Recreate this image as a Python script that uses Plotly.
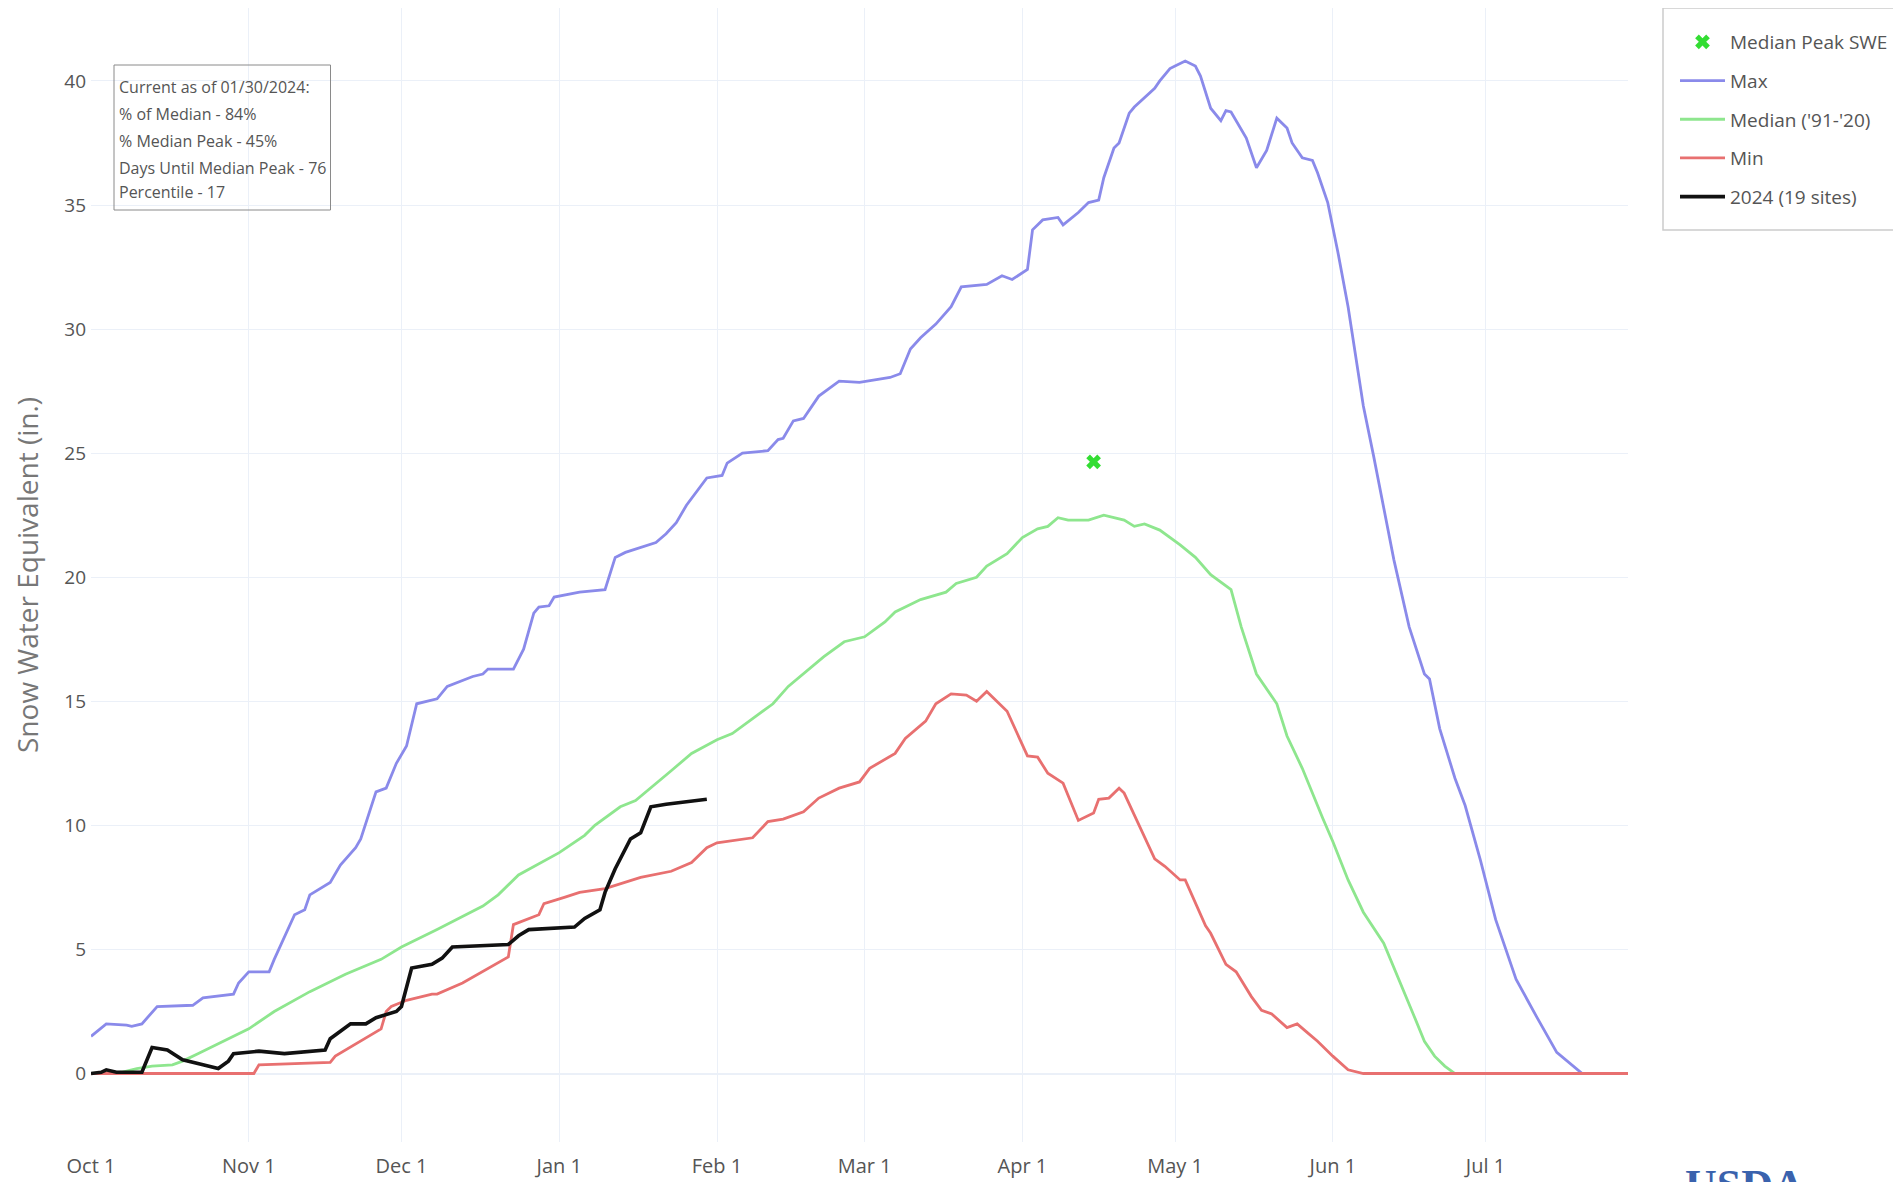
import pandas as pd
import plotly.graph_objects as go

# ---------------- data (day offsets from 2023-10-01, SWE inches) ----------------
START = "2023-10-01"

max_days = [0, 3, 7, 8, 10, 13, 20, 22, 28, 29, 31, 35, 36, 39, 40, 42, 43, 47, 49, 52, 53, 56, 58, 60, 62, 64,
            68, 70, 75, 77, 78, 83, 85, 87, 88, 90, 91, 96, 101, 103, 105, 111, 113, 115, 117, 121, 124, 125, 128,
            133, 135, 136, 138, 140, 143, 147, 151, 157, 159, 161, 163, 166, 169, 171, 176, 179, 181, 184, 185,
            187, 190, 191, 194, 196, 198, 199, 201, 202, 204, 205, 209, 210, 212, 213, 215, 217, 218, 220, 222,
            223, 224, 227, 229, 231, 233, 235, 236, 238, 240, 241, 243, 245, 247, 250, 252, 256, 259, 262, 263,
            265, 268, 270, 273, 276, 280, 284, 288, 293, 302]
max_vals = [1.5, 2.0, 1.95, 1.9, 2.0, 2.7, 2.75, 3.05, 3.2, 3.65, 4.1, 4.1, 4.6, 5.9, 6.4, 6.6, 7.2, 7.7, 8.4, 9.1,
            9.45, 11.35, 11.5, 12.5, 13.2, 14.9, 15.1, 15.6, 16.0, 16.1, 16.3, 16.3, 17.1, 18.55, 18.8, 18.85, 19.2,
            19.4, 19.5, 20.8, 21.0, 21.4, 21.75, 22.2, 22.9, 24.0, 24.1, 24.6, 25.0, 25.1, 25.55, 25.6, 26.3, 26.4,
            27.3, 27.9, 27.85, 28.05, 28.2, 29.2, 29.65, 30.2, 30.9, 31.7, 31.8, 32.15, 32.0, 32.4, 34.0, 34.4,
            34.5, 34.2, 34.7, 35.1, 35.2, 36.1, 37.3, 37.5, 38.7, 38.95, 39.7, 40.0, 40.5, 40.6, 40.8, 40.6, 40.2,
            38.9, 38.4, 38.8, 38.75, 37.7, 36.5, 37.2, 38.5, 38.1, 37.5, 36.9, 36.8, 36.3, 35.1, 33.1, 30.9, 26.9,
            24.9, 20.7, 18.0, 16.1, 15.9, 13.9, 11.9, 10.8, 8.6, 6.2, 3.8, 2.3, 0.85, 0.0, 0.0]

med_days = [0, 6, 9, 12, 16, 18, 21, 26, 31, 36, 43, 50, 57, 61, 68, 77, 80, 84, 92, 97, 99, 104, 107, 114, 118,
            123, 126, 130, 134, 137, 141, 144, 148, 152, 156, 158, 163, 168, 170, 174, 176, 180, 183, 186, 188,
            190, 192, 196, 199, 203, 205, 207, 210, 214, 217, 220, 224, 226, 229, 233, 235, 238, 242, 244, 247,
            250, 254, 257, 260, 262, 264, 266, 268, 302]
med_vals = [0.0, 0.05, 0.2, 0.3, 0.35, 0.5, 0.8, 1.3, 1.8, 2.5, 3.3, 4.0, 4.6, 5.1, 5.8, 6.75, 7.2, 8.0, 8.9, 9.6,
            10.0, 10.75, 11.0, 12.2, 12.9, 13.45, 13.7, 14.3, 14.9, 15.6, 16.3, 16.8, 17.4, 17.6, 18.2, 18.6, 19.1,
            19.4, 19.75, 20.0, 20.45, 20.95, 21.6, 21.95, 22.05, 22.4, 22.3, 22.3, 22.5, 22.3, 22.05, 22.15, 21.9,
            21.3, 20.8, 20.1, 19.5, 18.0, 16.1, 14.9, 13.6, 12.3, 10.3, 9.35, 7.8, 6.5, 5.25, 3.8, 2.3, 1.3, 0.7,
            0.3, 0.0, 0.0]

min_days = [0, 32, 33, 47, 48, 52, 57, 58, 59, 62, 67, 68, 73, 82, 83, 88, 89, 93, 96, 101, 108, 114, 118, 121,
            123, 130, 133, 136, 140, 143, 147, 151, 153, 158, 160, 164, 166, 169, 172, 174, 176, 180, 182, 184,
            186, 188, 191, 194, 197, 198, 200, 202, 203, 209, 211, 214, 215, 219, 220, 223, 225, 228, 230, 232,
            235, 237, 239, 241, 244, 247, 250, 302]
min_vals = [0.0, 0.0, 0.35, 0.45, 0.7, 1.2, 1.8, 2.5, 2.7, 2.95, 3.2, 3.2, 3.65, 4.7, 6.0, 6.4, 6.85, 7.1, 7.3,
            7.45, 7.9, 8.15, 8.5, 9.1, 9.3, 9.5, 10.15, 10.25, 10.55, 11.1, 11.5, 11.75, 12.3, 12.9, 13.5, 14.2,
            14.9, 15.3, 15.25, 15.0, 15.4, 14.6, 13.7, 12.8, 12.75, 12.1, 11.7, 10.2, 10.5, 11.05, 11.1, 11.5, 11.3,
            8.65, 8.35, 7.8, 7.8, 5.95, 5.65, 4.4, 4.1, 3.1, 2.55, 2.4, 1.85, 2.0, 1.65, 1.3, 0.7, 0.15, 0.0, 0.0]

cur_days = [0, 2, 3, 4, 5, 10, 11, 12, 15, 18, 22, 25, 27, 28, 33, 38, 46, 47, 51, 54, 56, 60, 61, 63, 67, 69, 71,
            82, 84, 86, 95, 97, 100, 101, 103, 106, 108, 110, 113, 121]
cur_vals = [0.0, 0.05, 0.15, 0.1, 0.05, 0.05, 0.6, 1.05, 0.95, 0.55, 0.35, 0.2, 0.5, 0.8, 0.9, 0.8, 0.95, 1.4, 2.0,
            2.0, 2.25, 2.5, 2.7, 4.25, 4.4, 4.65, 5.1, 5.2, 5.55, 5.8, 5.9, 6.25, 6.6, 7.3, 8.25, 9.45, 9.7, 10.75,
            10.85, 11.05]

peak_day = [197]
peak_val = [24.65]

info_lines = ["Current as of 01/30/2024:", "% of Median - 84%", "% Median Peak - 45%",
              "Days Until Median Peak - 76", "Percentile - 17"]

series_names = ["Median Peak SWE", "Max", "Median ('91-'20)", "Min", "2024 (19 sites)"]


def to_dates(days):
    return pd.Timestamp(START) + pd.to_timedelta(days, unit="D")


# ---------------- layout geometry (page pixels; body has an 8px margin) ----------------
OFF = 8
W, H = 1901 - OFF, 1182 - OFF
ML, MR, MT, MB = 83, 273, 0, 40
PW = W - ML - MR
PH = H - MT - MB


def px(xp):
    return (xp - OFF - ML) / PW


def py(yp):
    return (OFF + MT + PH - yp) / PH


FONT = "Open Sans"
fig = go.Figure()

fig.add_trace(go.Scatter(x=to_dates(peak_day), y=peak_val, mode="markers", name=series_names[0],
                         legendgroup="a",
                         marker=dict(symbol="x", size=13, color="#33dd33")))
fig.add_trace(go.Scatter(x=to_dates(max_days), y=max_vals, mode="lines", name=series_names[1],
                         legendgroup="b", line=dict(color="#8a8aea", width=2.8)))
fig.add_trace(go.Scatter(x=to_dates(med_days), y=med_vals, mode="lines", name=series_names[2],
                         legendgroup="c", line=dict(color="#8ee68e", width=2.8)))
fig.add_trace(go.Scatter(x=to_dates(min_days), y=min_vals, mode="lines", name=series_names[3],
                         legendgroup="d", line=dict(color="#e87070", width=2.8)))
fig.add_trace(go.Scatter(x=to_dates(cur_days), y=cur_vals, mode="lines", name=series_names[4],
                         legendgroup="e", line=dict(color="#111111", width=3.6)))

shapes = [
    dict(type="rect", xref="paper", yref="paper", x0=px(114), x1=px(330.5), y0=py(210), y1=py(65),
         line=dict(color="#8a8a8a", width=1), fillcolor="rgba(255,255,255,0)"),
    dict(type="rect", xref="paper", yref="paper", x0=px(1663), x1=px(1898), y0=py(230), y1=py(8),
         line=dict(color="#cccccc", width=1.5), fillcolor="rgba(255,255,255,0)"),
]

annotations = []
line_y = [86.7, 114.3, 141, 167.7, 192.3]
for txt, yy in zip(info_lines, line_y):
    annotations.append(dict(text=txt, xref="paper", yref="paper", x=px(117), y=py(yy), xanchor="left",
                            yanchor="middle", showarrow=False, font=dict(family=FONT, size=16, color="#555555")))
annotations.append(dict(text="<b>USDA</b>", xref="paper", yref="paper", x=px(1745), y=py(1159), xanchor="center",
                        yanchor="top", showarrow=False,
                        font=dict(family="Liberation Serif", size=44, color="#3a62ad")))

fig.update_layout(
    template="plotly_white",
    width=W, height=H,
    margin=dict(l=ML, r=MR, t=MT, b=MB, autoexpand=False),
    font=dict(family=FONT, color="#555555"),
    showlegend=True,
    legend=dict(x=px(1675), y=py(23), xanchor="left", yanchor="top", borderwidth=0,
                bgcolor="rgba(255,255,255,0)", font=dict(family=FONT, size=19, color="#555555"),
                tracegroupgap=11, itemwidth=45),
    shapes=shapes,
    annotations=annotations,
)

fig.update_xaxes(
    type="date",
    range=[to_dates([0])[0], to_dates([302])[0]],
    dtick="M1", tick0=START, tickformat="%b %-d",
    tickfont=dict(family=FONT, size=20, color="#555555"),
    ticklabelstandoff=10,
    showgrid=True, gridcolor="#EBF0F8", zeroline=False, showline=False, automargin=False,
)
fig.update_yaxes(
    range=[-2.76, 42.94], dtick=5, tick0=0,
    tickfont=dict(family=FONT, size=19, color="#555555"),
    ticklabelstandoff=4,
    title=dict(text="Snow Water Equivalent (in.)", font=dict(family=FONT, size=28, color="#777777"),
               standoff=38),
    showgrid=True, gridcolor="#EBF0F8", zeroline=True, zerolinecolor="#EBF0F8", zerolinewidth=2,
    automargin=False,
)

fig.write_html("out.html")
